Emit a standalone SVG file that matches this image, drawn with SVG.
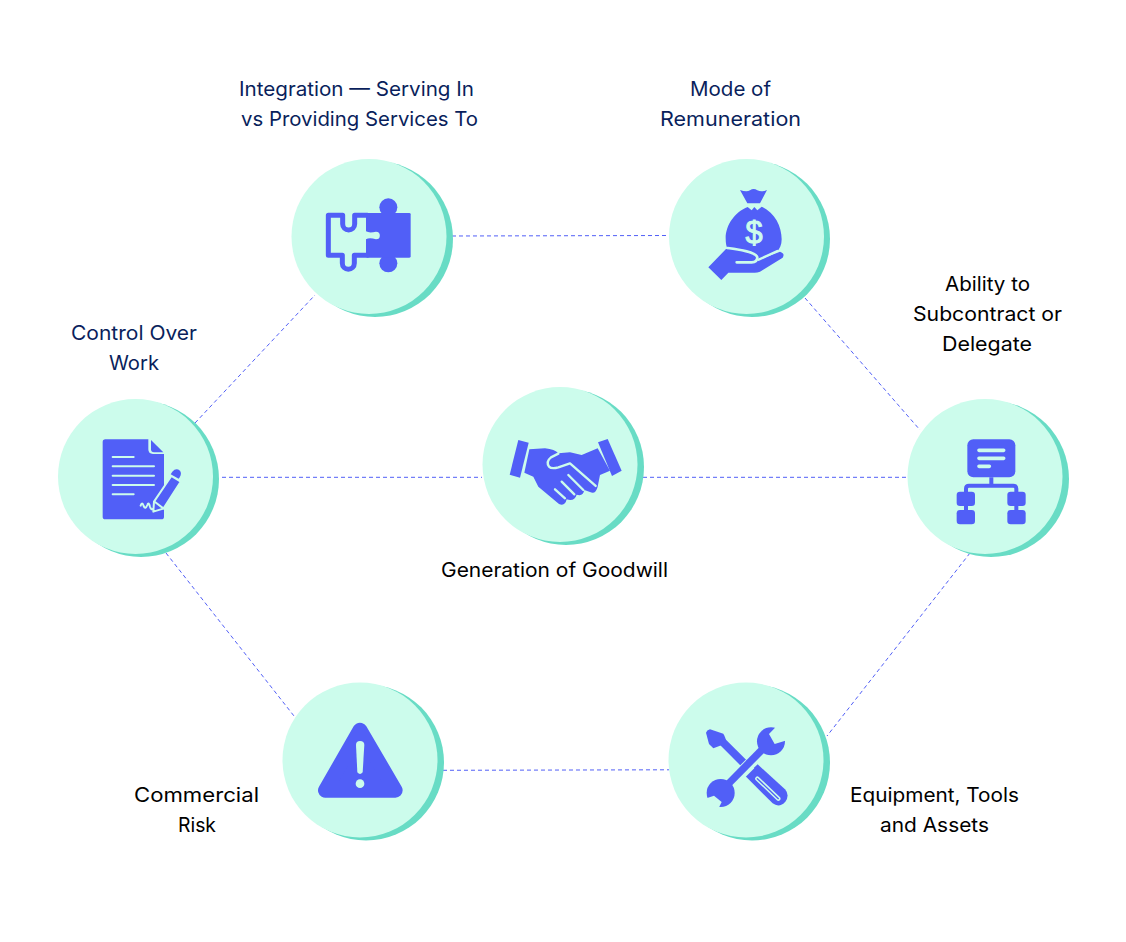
<svg xmlns="http://www.w3.org/2000/svg" width="1126" height="942" viewBox="0 0 1126 942">
<style>
.bg{fill:#fff}
.dk{fill:#68dcc5}
.lt{fill:#ccfcec}
.ic{fill:#515ff7}
.ls{fill:none;stroke:#ccfcec;stroke-linecap:round;stroke-linejoin:round}
.is{fill:none;stroke:#515ff7;stroke-linecap:round;stroke-linejoin:round}
.lf{fill:#ccfcec}
.con{fill:none;stroke:#515ff7;stroke-width:1;stroke-dasharray:4 3}
text{font-family:"Inter","Liberation Sans",sans-serif;font-size:20px;fill:#000}
.nv{fill:#0a1f5c}
</style>
<rect class="bg" width="1126" height="942"/>
<g id="connectors">
<path class="con" d="M452 236L669 235.500"/>
<path class="con" d="M195 423L315 295"/>
<path class="con" d="M222 477.300H482"/>
<path class="con" d="M643 477.300H908"/>
<path class="con" d="M166 553L294 716"/>
<path class="con" d="M805 298L920 430"/>
<path class="con" d="M970 553L827 736"/>
<path class="con" d="M443 770.300L669 769.800"/>
</g>
<g id="node-integration">
<circle class="dk" cx="375" cy="239" r="78"/><circle class="lt" cx="369" cy="236.500" r="77.500"/>
<g transform="translate(280 150) scale(.33333)">
<circle class="ic" cx="325" cy="172" r="27"/><circle class="ic" cx="325" cy="340" r="27"/>
<rect class="ic" x="258" y="189" width="134" height="134" rx="4"/>
<path class="is" stroke-width="15" d="M188 196H145V316H187V340A18 18 0 0 0 223 340V316H262M188 196V222A17 17 0 0 0 224 222V196H262"/>
<path class="lf" d="M258 244Q268 250 288 245A11.500 11.500 0 0 1 288 268Q268 262 258 268Z"/>
</g>
<text class="nv" x="239" y="96" textLength="235" lengthAdjust="spacingAndGlyphs">Integration — Serving In</text>
<text class="nv" x="241" y="126" textLength="237" lengthAdjust="spacingAndGlyphs">vs Providing Services To</text>
</g>
<g id="node-remuneration">
<circle class="dk" cx="752" cy="239" r="78"/><circle class="lt" cx="746.500" cy="236.500" r="77.500"/>
<g transform="translate(705 185) scale(.33333)">
<path class="ic" d="M105 15Q125 22 135 16Q146 8 157 16Q170 22 186 15L165 55H127Z"/>
<path class="ic" d="M128 66L140 76L148 66L157 76L170 65C210 83 230 125 230 163C230 180 224 192 216 200L155 225L70 195C64 187 62 175 62 160C62 120 90 80 128 66Z"/>
<path class="ic" d="M10 247L63 192C105 197 157 203 161 225L225 200Q241 205 233 218L165 260Q155 264 145 263H70L49 285Z"/>
<path class="ls" stroke-width="8" d="M68 189C105 194 153 201 157 217Q157 232 140 232H95"/>
<path class="ls" stroke-width="7" d="M161 224L217 198"/>
<text x="147" y="173" text-anchor="middle" style="font-size:92px;font-family:'Liberation Sans',sans-serif;fill:#ccfcec;stroke:#ccfcec;stroke-width:3">$</text>
</g>
<text class="nv" x="690" y="96" textLength="81" lengthAdjust="spacingAndGlyphs">Mode of</text>
<text class="nv" x="660" y="126" textLength="141" lengthAdjust="spacingAndGlyphs">Remuneration</text>
</g>
<g id="node-control">
<circle class="dk" cx="141" cy="479" r="78"/><circle class="lt" cx="135.500" cy="476.500" r="77.500"/>
<g transform="translate(50 390) scale(.33333)">
<path class="ic" d="M166 148H295V178Q295 192 309 192H342V380Q342 388 334 388H166Q158 388 158 380V156Q158 148 166 148Z"/>
<path class="ic" d="M303 150L340 187H312Q303 187 303 178Z"/>
<path class="ls" stroke-width="6" d="M188 201H251M188 229H312M188 257H312M188 285H312M188 313H251"/>
</g>
<g transform="translate(130 460) scale(.33333)">
<path class="ls" stroke-width="6" d="M32 137Q36 124 41 138Q46 150 52 135Q56 124 60 140Q63 150 69 147"/>
<path class="ic" style="stroke:#ccfcec;stroke-width:6;stroke-linejoin:round" d="M124 48L152 65L100 146L70 155L72 125Z"/>
<path class="ls" stroke-width="6" d="M75 126L100 145"/>
<path class="ic" d="M127 35Q138 22 150 32Q156 40 149 52L146 56L122 43Z"/>
</g>
<text class="nv" x="71" y="340" textLength="126" lengthAdjust="spacingAndGlyphs">Control Over</text>
<text class="nv" x="109" y="370" textLength="50" lengthAdjust="spacingAndGlyphs">Work</text>
</g>
<g id="node-goodwill">
<circle class="dk" cx="566" cy="467" r="78"/><circle class="lt" cx="560" cy="464.500" r="77.500"/>
<g transform="translate(475 380) scale(.33333)">
<path class="ic" d="M130 180L161 188L135 293L104 284Z"/>
<path class="ic" d="M369 187L398 177L440 272L411 288Z"/>
<path class="ic" d="M163 208L210 205Q240 208 250 220L285 217L320 225L368 205L405 272L375 285L368 320Q362 344 345 336L328 330Q325 350 305 344Q298 366 275 358Q270 380 252 372L190 320L175 290L148 278Z"/>
<path class="ls" stroke-width="7" d="M250 221L228 232Q212 245 222 260Q230 268 250 262L285 250L362 318"/>
<path class="ls" stroke-width="7" d="M280 285L325 330M260 305L298 343M240 328L270 355"/>
</g>
<text x="441" y="577" textLength="227" lengthAdjust="spacingAndGlyphs">Generation of Goodwill</text>
</g>
<g id="node-subcontract">
<circle class="dk" cx="991" cy="479" r="78"/><circle class="lt" cx="985" cy="476.500" r="77.500"/>
<g transform="translate(900 390) scale(.33333)">
<rect class="ic" x="202" y="148" width="144" height="114" rx="18"/>
<path class="ls" stroke-width="11" d="M237 181H311M237 205H311M237 229H268"/>
<path class="is" stroke-width="12" style="stroke-linecap:butt" d="M198 308V296Q198 287 207 287H340Q349 287 349 296V308M274 262V287M198 345V365M349 345V365"/>
<rect class="ic" x="170" y="305" width="55" height="43" rx="10"/>
<rect class="ic" x="170" y="360" width="55" height="43" rx="10"/>
<rect class="ic" x="322" y="305" width="55" height="43" rx="10"/>
<rect class="ic" x="322" y="360" width="55" height="43" rx="10"/>
</g>
<text x="945" y="291" textLength="85" lengthAdjust="spacingAndGlyphs">Ability to</text>
<text x="913" y="321" textLength="149" lengthAdjust="spacingAndGlyphs">Subcontract or</text>
<text x="942" y="351" textLength="90" lengthAdjust="spacingAndGlyphs">Delegate</text>
</g>
<g id="node-risk">
<circle class="dk" cx="366" cy="762.500" r="78"/><circle class="lt" cx="360" cy="760" r="77.500"/>
<g transform="translate(275 675) scale(.33333)">
<path class="ic" style="stroke:#515ff7;stroke-width:44;stroke-linejoin:round" d="M255 165L151 346H361Z"/>
<path class="lf" d="M243 210Q243 198 255 198Q268 198 268 210L263 292Q255 302 247 292Z"/>
<circle class="lf" cx="255" cy="326" r="13"/>
</g>
<text x="134" y="802" textLength="125" lengthAdjust="spacingAndGlyphs">Commercial</text>
<text x="178" y="832" textLength="38" lengthAdjust="spacingAndGlyphs">Risk</text>
</g>
<g id="node-equipment">
<circle class="dk" cx="752" cy="762.500" r="78"/><circle class="lt" cx="746" cy="760" r="77.500"/>
<g transform="translate(700 720) scale(.33333)">
<path class="ic" d="M18 38Q20 30 30 28L70 41Q76 50 80 70L40 85L27 72Z"/>
<path class="is" stroke-width="24" style="stroke-linecap:butt" d="M62 60L135 133"/>
<path class="ic" d="M136 168L173 133L255 208Q270 225 256 245Q238 265 218 250Z"/>
<path class="ls" stroke-width="13" d="M172 176L235 236"/>
<path class="is" stroke-width="4" d="M172 176L235 236"/>
<path class="ls" stroke-width="36" style="stroke-linecap:butt" d="M120 162L150 132"/>
<path class="is" stroke-width="22" style="stroke-linecap:butt" d="M70 207L198 77"/>
<circle class="ic" cx="213" cy="64" r="42"/>
<circle class="ic" cx="62" cy="219" r="42"/>
<path class="lf" d="M228 20L207 42L224 72L256 62L275 40L240 0Z"/>
<path class="lf" d="M15 236L42 227L65 246L56 264L30 280L0 250Z"/>
</g>
<text x="850" y="802" textLength="169" lengthAdjust="spacingAndGlyphs">Equipment, Tools</text>
<text x="880" y="832" textLength="109" lengthAdjust="spacingAndGlyphs">and Assets</text>
</g>
</svg>
